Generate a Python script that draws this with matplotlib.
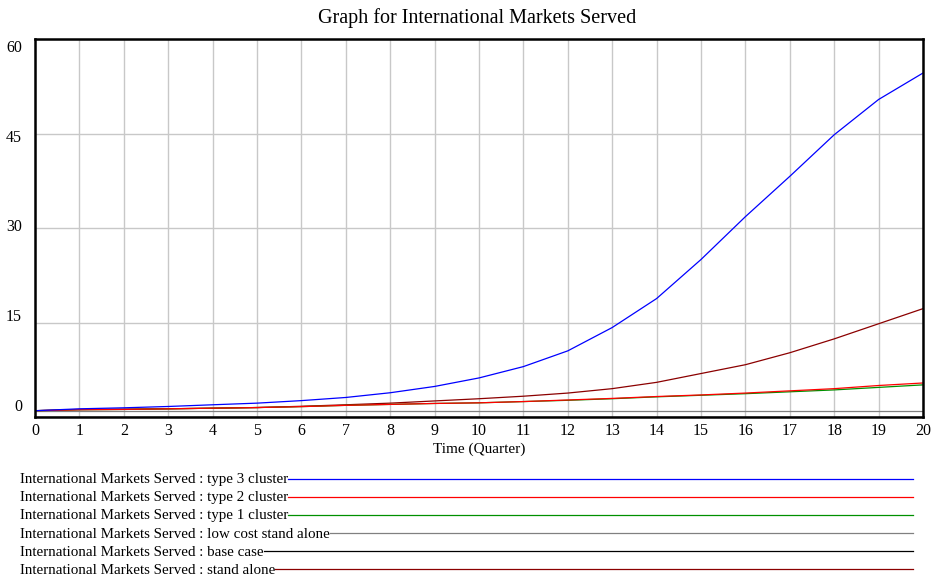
import matplotlib
matplotlib.use("Agg")
import matplotlib.pyplot as plt
from matplotlib.lines import Line2D

# quarterly values, t = 0..20
quarters = list(range(21))
type3_cluster = [1.0, 1.3, 1.46, 1.67, 1.94, 2.2, 2.6, 3.1, 3.85, 4.85, 6.2, 8.0, 10.5,
                 14.2, 18.8, 25.0, 31.8, 38.2, 44.8, 50.4, 54.6]
type2_cluster = [1.0, 1.15, 1.2, 1.3, 1.4, 1.5, 1.65, 1.85, 2.0, 2.15, 2.25, 2.45, 2.7,
                 2.95, 3.25, 3.5, 3.8, 4.15, 4.5, 5.0, 5.4]
type1_cluster = [1.0, 1.15, 1.2, 1.3, 1.4, 1.5, 1.65, 1.85, 2.0, 2.15, 2.25, 2.45, 2.65,
                 2.9, 3.2, 3.45, 3.7, 4.0, 4.3, 4.7, 5.1]
low_cost_stand_alone = [1.0] * 21
base_case = [0.0] * 21
stand_alone = [1.0, 1.2, 1.25, 1.3, 1.4, 1.5, 1.7, 1.94, 2.2, 2.55, 2.9, 3.3, 3.8,
               4.5, 5.5, 6.9, 8.3, 10.2, 12.4, 14.8, 17.2]
y_labels = [60, 45, 30, 15, 0]

series = [
    ("International Markets Served : type 3 cluster", type3_cluster, "#0000ff"),
    ("International Markets Served : type 2 cluster", type2_cluster, "#ff0000"),
    ("International Markets Served : type 1 cluster", type1_cluster, "#009000"),
    ("International Markets Served : low cost stand alone", low_cost_stand_alone, "#808080"),
    ("International Markets Served : base case", base_case, "#000000"),
    ("International Markets Served : stand alone", stand_alone, "#8b0000"),
]

plt.rcParams["font.family"] = ["Liberation Serif", "DejaVu Serif"]

W, H = 933, 580
fig = plt.figure(figsize=(W / 100, H / 100), dpi=100)
ax = fig.add_axes([35 / W, 1 - 417 / H, 888 / W, 378 / H])

# draw bottom-up so the blue curve sits on top
for label, vals, color in reversed(series):
    ax.plot(quarters, vals, color=color, lw=0.9)

ax.set_xlim(0, 20)
ax.set_ylim(0, 60)
ax.set_xticks(range(21))
ax.set_yticks([0, 15, 30, 45, 60])
ax.set_yticklabels([])
ax.tick_params(length=0, labelsize=11.5)
ax.tick_params(axis="x", pad=4)
ax.grid(True, color="#c8c8c8", lw=1)
ax.set_axisbelow(True)
for sp in ax.spines.values():
    sp.set_linewidth(1.8)

# y labels are spread evenly down the left edge, not pinned to the gridlines
for i, v in enumerate(y_labels):
    ypix = 48 + i * (407 - 48) / (len(y_labels) - 1)
    fig.text(22 / W, 1 - ypix / H, str(v), ha="right", va="center", fontsize=11.5)

ax.set_xlabel("Time (Quarter)", fontsize=11, labelpad=3)
fig.text(477 / W, 1 - 18 / H, "Graph for International Markets Served",
         ha="center", va="center", fontsize=14.5)

# legend rows: label text followed by a line out to the right edge
fig.canvas.draw()
renderer = fig.canvas.get_renderer()
for i, (label, vals, color) in enumerate(series):
    ypix = 480 + i * 18
    yf = 1 - ypix / H
    txt = fig.text(20 / W, yf, label, ha="left", va="center", fontsize=10.8)
    bb = txt.get_window_extent(renderer)
    fig.add_artist(Line2D([bb.x1 / W, 913 / W], [yf + 1 / H, yf + 1 / H],
                          transform=fig.transFigure, color=color, lw=0.9))

fig.savefig("out.png", dpi=100)
